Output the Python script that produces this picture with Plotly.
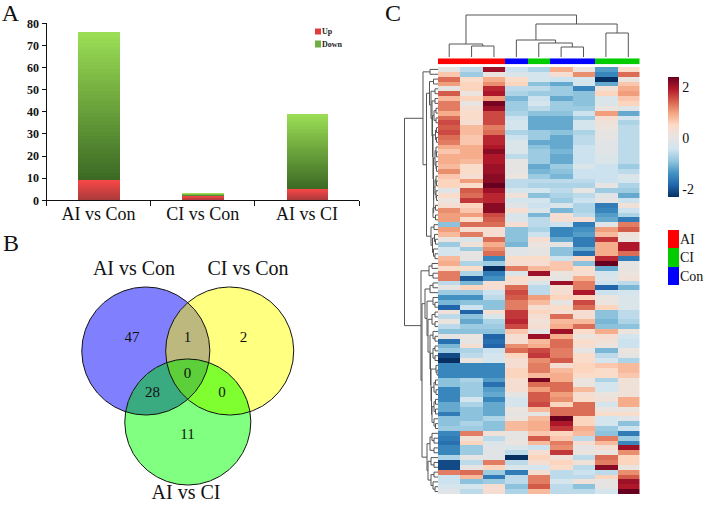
import numpy as np
import plotly.graph_objects as go

W, H = 709, 505
SERIF = "Liberation Serif"

# ---------- Panel A data ----------
categories = ["AI vs Con", "CI vs Con", "AI vs CI"]
up_values = [9, 2, 5]
down_values = [67, 1, 34]
y_ticks = [0, 10, 20, 30, 40, 50, 60, 70, 80]
bar_series = ["Up", "Down"]

# ---------- Panel B data ----------
venn_names = ["AI vs Con", "CI vs Con", "AI vs CI"]
venn_cx = [145.8, 229.7, 187.8]
venn_cy = [351, 351, 422]
venn_r = [64, 64, 63]
venn_counts = ["47", "1", "2", "0", "28", "0", "11"]
venn_count_x = [132, 187.5, 243.5, 187.5, 152.5, 222, 187.5]
venn_count_y = [338, 338, 338, 374, 393, 393, 435]

# ---------- Panel C data ----------
column_groups = [0, 0, 0, 2, 1, 2, 2, 1, 1]
group_names = ["AI", "CI", "Con"]
group_colors = ["#ff0000", "#00cc00", "#0000ff"]
heat_rows = [
 [0,-0.5,1.8,-0.4,-0.6,0.8,0.1,-1.1,0.4],
 [0.6,-0.7,0.1,-0.2,-0.3,0.3,1.0,-1.3,1.2],
 [1.2,0.4,0.8,0.4,-0.3,-0.4,-0.3,-2.2,0.1],
 [0.9,0.5,1.0,0.5,-0.8,-1.0,-0.3,-1.0,0.6],
 [0,0.5,1.6,-0.5,-0.5,-0.7,-1.3,0.2,0.8],
 [1.3,0.1,1.7,-0.6,-0.7,-0.7,-0.8,0.5,0.9],
 [0.7,0.5,0.9,-0.9,-0.4,-1.0,-0.8,-0.2,0.6],
 [1.1,0.05,2.0,-0.7,-0.3,-0.7,-0.8,-0.2,0.5],
 [1.1,0.3,1.8,-0.7,-0.5,-0.7,-0.7,0.1,-0.1],
 [0.8,0.4,1.4,-0.6,-0.8,-0.8,-0.4,0.9,-1.0],
 [1.2,0.4,1.4,-0.4,-1.0,-1.0,-0.7,0.3,-0.3],
 [1.4,0.3,1.4,-0.3,-1.0,-1.0,-0.3,0.2,-0.6],
 [1.3,0.7,1.1,-0.3,-1.0,-1.0,-0.3,0.1,-0.5],
 [1.4,0.7,1.2,-0.6,-0.7,-0.8,-0.6,0.0,-0.5],
 [1.2,0.6,1.6,-0.4,-0.7,-1.0,-0.5,0.0,-0.5],
 [1.1,0.6,1.6,-0.2,-1.0,-1.0,-0.5,-0.1,-0.5],
 [0.8,0.8,1.7,-0.2,-0.8,-1.0,-0.4,-0.1,-0.5],
 [0.6,0.8,1.9,-0.2,-0.7,-0.9,-0.4,-0.1,-0.5],
 [0.8,0.8,1.7,-0.5,-0.7,-1.0,-0.4,-0.2,-0.5],
 [0.8,0.7,1.7,0.0,-0.7,-1.0,-0.4,-0.2,-0.5],
 [0.7,0.4,1.8,0.0,-1.0,-0.7,-0.2,-0.4,-0.7],
 [1.0,0.4,1.8,0.0,-0.9,-0.8,-0.4,-0.4,-0.5],
 [0.6,0.3,1.9,0.1,-0.7,-0.9,-0.4,-0.4,-0.2],
 [0.5,0.9,1.9,-0.5,-0.5,-0.5,-0.5,-0.4,-0.3],
 [0.5,0.4,2.3,-0.5,-0.6,-0.6,-0.6,0.0,-0.6],
 [-0.1,1.3,1.8,-0.3,-0.3,-0.5,0.05,-0.7,-0.7],
 [0.4,1.2,1.6,0.2,-0.8,-0.6,-0.5,-0.1,-1.0],
 [0.1,1.5,1.6,-0.3,-0.3,-0.7,-0.4,0.0,-0.4],
 [0.3,0.5,1.9,-0.1,-0.4,-0.2,-0.6,-1.4,0.2],
 [1.0,0.6,1.9,0.3,-0.2,-0.9,-0.6,-1.3,-0.4],
 [0.9,0.9,1.4,-0.2,-0.9,0.3,-0.5,-1.1,-0.6],
 [0.9,0.4,1.3,-0.2,-0.5,0.3,0.3,-1.0,-1.4],
 [-0.8,1.2,1.2,0.3,-0.5,-0.4,-1.4,-0.1,1.1],
 [0.9,0.3,0.3,-0.8,-0.6,-1.3,-1.2,0.9,1.3],
 [0.7,1.1,0.3,-0.8,-0.4,-1.3,-1.1,0.7,0.2],
 [0.1,-0.2,1.2,-0.8,0.3,-1.0,-1.4,1.5,0.1],
 [-0.7,0.2,0.8,-0.9,0.1,0.0,-1.4,0.8,1.7],
 [-0.3,-0.7,1.0,-0.1,0.0,-0.8,-1.0,0.8,1.7],
 [-0.3,0.0,1.2,-0.1,0.0,-0.8,-1.5,0.8,1.2],
 [0.7,0.0,-1.3,0.4,0.4,-0.4,0.5,1.6,-1.4],
 [0.8,-0.6,-0.7,0.3,0.3,0.6,-0.8,2.1,0.0],
 [0.4,0.4,-2.0,1.1,0.7,0.6,0.4,-1.0,0.0],
 [1.1,-0.6,-1.4,-0.2,1.8,0.1,0.3,-0.3,0.1],
 [1.1,-1.7,-1.2,0.4,0.2,0.0,0.8,-0.2,0.2],
 [-0.5,-0.9,0.3,0.3,-0.2,1.8,1.1,-0.4,-0.5],
 [0.0,0.5,0.3,1.2,-0.5,0.3,1.1,-1.6,-0.9],
 [-0.7,-0.7,-0.4,1.4,-0.5,0.3,1.7,-0.4,-0.3],
 [-1.2,-1.2,-0.5,1.3,0.9,0.5,0.5,0.1,-0.2],
 [-0.9,-0.8,-0.8,1.1,0.7,0.0,1.4,0.1,-0.2],
 [-1.6,-0.4,-0.8,1.1,0.3,0.4,1.2,0.5,-0.2],
 [0.2,-1.6,0.3,1.5,0.5,0.3,0.3,-0.8,-0.5],
 [-0.5,-0.8,-0.2,1.5,0.3,1.2,0.3,-0.8,-0.5],
 [0.1,-1.0,-0.6,1.6,0.2,0.7,0.7,-0.9,-0.6],
 [-0.5,-0.7,-0.7,1.4,0.3,0.8,1.2,-0.8,-0.8],
 [-0.8,-0.8,-0.8,0.6,0.0,1.8,0.4,0.8,0.1],
 [0.0,0.1,-1.6,0.3,1.8,0.8,0.1,0.3,-0.3],
 [-1.5,0.0,-1.5,0.3,0.7,1.2,0.4,0.2,-0.4],
 [-0.9,0.3,-1.6,1.0,0.8,1.2,0.3,0.1,-0.4],
 [-0.7,-0.6,-0.4,1.2,1.4,1.1,0.0,-0.9,0.1],
 [-1.8,-0.5,-0.3,0.5,1.5,1.1,0.4,-0.5,0.0],
 [-2.0,0.1,-0.3,0.3,1.0,1.3,0.4,-0.3,-0.6],
 [-1.3,-1.3,-1.3,0.3,1.1,0.3,0.5,0.6,0.7],
 [-1.3,-1.3,-1.3,0.5,1.1,0.7,0.5,0.4,0.7],
 [-1.3,-1.3,-1.3,0.5,0.7,0.8,0.4,0.4,0.6],
 [-0.8,-0.6,-1.1,0.3,2.0,0.8,0.1,-0.6,0.2],
 [-0.8,-0.7,-1.5,0.3,1.2,1.2,0.1,-0.3,0.2],
 [-1.3,-0.7,-1.1,0.3,0.9,1.2,0.7,-0.3,0.2],
 [-1.3,-0.7,-1.0,0.0,1.3,0.9,0.3,0.1,0.2],
 [-1.3,-0.3,-1.3,-0.3,1.3,1.0,0.4,0.2,0.8],
 [-1.0,-0.6,-1.0,-0.3,1.4,0.5,1.2,-0.3,0.8],
 [-1.0,-0.8,-1.0,0.1,0.7,1.2,1.2,0.1,0.1],
 [-1.4,-0.8,-1.0,0.0,0.0,1.2,1.2,0.4,0.4],
 [-0.8,-0.8,-0.6,0.1,0.7,2.1,0.5,-0.3,-0.1],
 [-0.8,-0.6,-0.8,0.7,0.8,1.7,0.5,-0.3,-0.8],
 [-0.7,-0.7,-0.8,0.7,0.8,1.5,0.8,-0.7,-0.4],
 [-1.3,1.1,0.2,0.0,0.6,0.5,0.7,-0.8,-1.4],
 [-1.4,0.2,-0.5,0.0,1.3,0.6,-0.5,1.1,-0.7],
 [-1.5,0.5,-0.2,0.1,0.7,1.1,0.3,0.7,-1.3],
 [-1.3,-0.7,-0.1,-0.2,-0.4,1.0,0.0,0.3,1.8],
 [-1.3,-0.7,-0.1,-0.5,0.3,1.5,0.1,0.1,1.0],
 [-0.6,0.0,-0.1,-2.2,0.5,0.2,-0.5,1.2,0.5],
 [-1.8,-0.5,1.1,-0.5,0.3,0.5,0.2,1.1,0.5],
 [-1.8,0.0,0.5,-0.2,-0.3,0.4,-0.5,1.9,0.1],
 [1.1,1.2,-0.7,-1.4,0.3,-0.5,-0.4,-0.5,1.0],
 [-0.4,0.7,-1.4,-0.5,1.1,-0.5,-0.5,0.5,1.3],
 [-0.4,-0.8,-0.7,-0.5,1.1,-0.3,0.2,0.0,1.8],
 [-0.3,-0.3,0.3,-0.8,1.3,-0.5,-0.8,0.0,1.7],
 [-0.1,-0.5,0.3,-0.6,0.7,-0.5,-0.5,-0.3,2.4],
]
READ_GAIN = 1.15  # my visual reading of shades runs a little low against the colour bar
heat_colors = ["#053061", "#2166ac", "#4393c3", "#92c5de", "#d1e5f0", "#e8e4e2",
               "#fddbc7", "#f4a582", "#d6604d", "#b2182b", "#67001f"]
heat_zmin, heat_zmax = -2.3, 2.4
color_ticks = [-2, 0, 2]

# dendrogram merges: (first leaf, split leaf, end leaf, height)
column_merges = [(1,2,3,11),(0,1,3,13),(5,6,7,10),(4,5,7,14),(3,4,7,17),(7,8,9,24),(3,7,9,33),(0,3,9,42)]
row_merges = [
 (0,1,2,8),(2,3,4,4.5),(4,5,6,3),(6,7,8,3),(8,9,10,2),(10,11,12,2),(8,10,12,4),
 (12,13,14,1.5),(14,15,16,1.5),(12,14,16,2.5),(17,18,19,1.5),(16,17,19,2),(20,21,22,1.5),(19,20,22,2),(16,19,22,3),
 (23,24,25,1.5),(22,23,25,2),(26,27,28,1.5),(25,26,28,2),(22,25,28,3),(28,29,30,2.5),(30,31,32,2.5),(28,30,32,5),
 (22,28,32,4.3),(16,22,32,4.5),(12,16,32,5),(8,12,32,5.5),(6,8,32,6),(4,6,32,7),(2,4,32,8.5),
 (32,33,34,4),(35,36,37,2.5),(34,35,37,3.5),(38,39,40,3),(37,38,40,4.5),(34,37,40,5.5),(32,34,40,7),
 (2,32,40,11.5),(0,2,40,15),
 (40,41,42,6),(42,43,44,5),(40,42,44,9),
 (44,45,46,5),(44,46,47,8),(48,49,50,3),(47,48,50,5),(50,51,52,3),(52,53,54,3),(50,52,54,6),
 (55,56,57,3),(54,55,57,5),(57,58,59,3),(59,60,61,3),(57,59,61,5),(62,63,64,1),(61,62,64,2),
 (64,65,66,2.5),(66,67,68,2),(64,66,68,4),(68,69,70,2.5),(70,71,72,2.5),(68,70,72,4),(73,74,75,2.5),(72,73,75,4),
 (68,72,75,6),(64,68,75,6.5),(61,64,75,7),(57,61,75,7.5),(54,57,75,8),(50,54,75,10),(47,50,75,11),(44,47,75,13),
 (76,77,78,4),(75,76,78,6),(78,79,80,4),(75,78,80,8),(81,82,83,4),(80,81,83,7),(83,84,85,4),(86,87,88,3),(85,86,88,5),(83,85,88,7),
 (80,83,88,10),(75,80,88,11),(44,75,88,16),(40,44,88,17),(0,40,88,33.5),
]

# page texts
page_text = ["A", "B", "C"] + venn_names
page_text_x = [10.5, 11, 393, 134, 248, 186]
page_text_y = [15, 245, 15, 270, 270, 494]
page_text_size = [24, 24, 24, 20, 20, 20]

# ---------- helpers ----------
def dx(a, b):
    return [a / W, b / W]

def dy(a, b):
    return [1 - b / H, 1 - a / H]

def blend(c0, c1, t):
    a = np.array(c0); b = np.array(c1)
    v = a + (b - a) * t
    return "rgb(%d,%d,%d)" % tuple(v.round().astype(int))

def dendro_lines(merges):
    info = {}
    a, b = [], []
    for lo, mid, hi, h in merges:
        lp, lh = info.get((lo, mid), ((lo + mid - 1) / 2 if mid - lo == 1 else None, 0))
        rp, rh = info.get((mid, hi), ((mid + hi - 1) / 2 if hi - mid == 1 else None, 0))
        a += [lp, lp, rp, rp, None]
        b += [lh, h, h, rh, None]
        info[(lo, hi)] = ((lp + rp) / 2, h)
    return a, b

def hidden_axis(domain, rng, anchor):
    return dict(domain=domain, range=rng, anchor=anchor, visible=False, fixedrange=True)

fig = go.Figure()

# ---------- Panel A ----------
RED_TOP, RED_BOT = (245, 70, 70), (168, 58, 58)
GRN_TOP, GRN_BOT = (155, 222, 85), (60, 106, 36)
n_slices = 40
fig.add_trace(go.Bar(x=categories, y=up_values, name=bar_series[0], width=0.4, marker_color="#e03c3c",
                     marker_line_width=0, showlegend=False))
fig.add_trace(go.Bar(x=categories, y=down_values, base=up_values, name=bar_series[1], width=0.4,
                     marker_color="#6eae45", marker_line_width=0, showlegend=False))
sx, sb, sh, sc = [], [], [], []
for cat, u, d in zip(categories, up_values, down_values):
    for seg_base, seg_h, top, bot in ((0, u, RED_TOP, RED_BOT), (u, d, GRN_TOP, GRN_BOT)):
        for i in range(n_slices):
            t = i / (n_slices - 1)
            sx.append(cat)
            sb.append(seg_base + seg_h * i / n_slices)
            sh.append(seg_h / n_slices * 1.15 if i < n_slices - 1 else seg_h / n_slices)
            sc.append(blend(bot, top, t))
fig.add_trace(go.Bar(x=sx, y=sh, base=sb, width=0.4, marker=dict(color=sc, line_width=0),
                     showlegend=False, hoverinfo="skip"))
# small key for Up / Down
key_scale = [[0, "#e03c3c"], [0.5, "#e03c3c"], [0.5, "#6eae45"], [1, "#6eae45"]]
fig.add_trace(go.Heatmap(z=[[0], [1]], y=bar_series, zmin=0, zmax=1, colorscale=key_scale, showscale=False,
                         ygap=6, hoverinfo="skip", xaxis="x8", yaxis="y8"))

# ---------- Panel B ----------
def circle(i, n=361):
    th = np.linspace(0, 2 * np.pi, n)
    return venn_cx[i] + venn_r[i] * np.cos(th), venn_cy[i] + venn_r[i] * np.sin(th)

def inside(x, y, j):
    return (x - venn_cx[j]) ** 2 + (y - venn_cy[j]) ** 2 <= venn_r[j] ** 2 + 1e-9

def intersection(ids):
    xs, ys = [], []
    for i in ids:
        cx, cy = circle(i, 1441)
        keep = np.ones_like(cx, bool)
        for j in ids:
            if j != i:
                keep &= inside(cx, cy, j)
        xs.append(cx[keep]); ys.append(cy[keep])
    x = np.concatenate(xs); y = np.concatenate(ys)
    order = np.argsort(np.arctan2(y - y.mean(), x - x.mean()))
    return np.r_[x[order], x[order][0]], np.r_[y[order], y[order][0]]

venn_fill = {(0,): "#8080ff", (1,): "#ffff80", (2,): "#80ff80",
             (0, 1): "#bdb97e", (0, 2): "#3aaa80", (1, 2): "#80ff30", (0, 1, 2): "#5ccf3a"}
for ids in [(0,), (1,), (2,), (0, 1), (0, 2), (1, 2), (0, 1, 2)]:
    px_, py_ = circle(ids[0]) if len(ids) == 1 else intersection(ids)
    fig.add_trace(go.Scatter(x=px_, y=py_, mode="lines", fill="toself", fillcolor=venn_fill[ids],
                             line=dict(width=0), showlegend=False, hoverinfo="skip",
                             xaxis="x2", yaxis="y2"))
for i in range(3):
    cx, cy = circle(i)
    fig.add_trace(go.Scatter(x=cx, y=cy, mode="lines", line=dict(color="#111111", width=1),
                             showlegend=False, hoverinfo="skip", xaxis="x2", yaxis="y2"))
fig.add_trace(go.Scatter(x=venn_count_x, y=venn_count_y, mode="text", text=venn_counts,
                         textfont=dict(family=SERIF, size=15, color="#111111"), showlegend=False,
                         hoverinfo="skip", xaxis="x2", yaxis="y2"))
fig.add_trace(go.Scatter(x=page_text_x, y=page_text_y, mode="text", text=page_text, cliponaxis=False,
                         textfont=dict(family=SERIF, size=page_text_size, color="#111111"), showlegend=False,
                         hoverinfo="skip", xaxis="x2", yaxis="y2"))

# ---------- Panel C ----------
z = np.array(heat_rows, dtype=float) * READ_GAIN
stops = [[i / (len(heat_colors) - 1), c] for i, c in enumerate(heat_colors)]
fig.add_trace(go.Heatmap(z=z, zmin=heat_zmin, zmax=heat_zmax, colorscale=stops, xaxis="x3", yaxis="y3",
                         xgap=0, ygap=0, hoverinfo="skip",
                         colorbar=dict(x=668 / W, xanchor="left", xpad=0, ypad=0, thickness=11, thicknessmode="pixels",
                                       len=120, lenmode="pixels", y=1 - 77 / H, yanchor="top",
                                       tickmode="array", tickvals=color_ticks, ticktext=["-2", "0", "2"],
                                       ticks="", outlinewidth=0, borderwidth=0,
                                       tickfont=dict(family=SERIF, size=14, color="#111111"))))
group_scale = [[0, group_colors[0]], [0.33, group_colors[0]], [0.33, group_colors[1]],
               [0.66, group_colors[1]], [0.66, group_colors[2]], [1, group_colors[2]]]
fig.add_trace(go.Heatmap(z=[column_groups], zmin=0, zmax=2, colorscale=group_scale, showscale=False,
                         hoverinfo="skip", xaxis="x4", yaxis="y4"))
lx, ly = dendro_lines(column_merges)
fig.add_trace(go.Scatter(x=lx, y=ly, mode="lines", line=dict(color="#555555", width=1), showlegend=False,
                         hoverinfo="skip", xaxis="x5", yaxis="y5"))
ry, rx = dendro_lines(row_merges)
fig.add_trace(go.Scatter(x=rx, y=ry, mode="lines", line=dict(color="#555555", width=1), showlegend=False,
                         hoverinfo="skip", xaxis="x6", yaxis="y6"))
fig.add_trace(go.Heatmap(z=[[0], [1], [2]], y=group_names, zmin=0, zmax=2, colorscale=group_scale, showscale=False,
                         hoverinfo="skip", xaxis="x7", yaxis="y7"))

n_rows, n_cols = z.shape
HX0, HX1, HY0, HY1 = 438, 639.5, 67, 494

fig.update_layout(
    width=W, height=H, margin=dict(l=0, r=0, t=0, b=0, autoexpand=False), paper_bgcolor="white", plot_bgcolor="rgba(0,0,0,0)",
    barmode="overlay", bargap=0, showlegend=False,
    font=dict(family=SERIF, color="#111111"),
    xaxis=dict(domain=dx(46.5, 359), range=[-0.5, 2.5], anchor="y", type="category", tickson="boundaries",
               ticks="outside", ticklen=5, tickwidth=1, tickcolor="#111111", showline=True, linecolor="#111111",
               ticklabelstandoff=-3,
               tickfont=dict(family=SERIF, size=18, color="#111111"), showgrid=False, fixedrange=True),
    yaxis=dict(domain=dy(23.3, 200.3), range=[0, 80], anchor="x", tickvals=y_ticks, ticks="outside", ticklen=4,
               tickwidth=1, tickcolor="#111111", showline=True, linecolor="#111111", showgrid=False, zeroline=False,
               tickfont=dict(family=SERIF, size=12, color="#111111", weight="bold"), fixedrange=True),
    xaxis2=hidden_axis([0, 1], [0, W], "y2"),
    yaxis2=hidden_axis([0, 1], [H, 0], "x2"),
    xaxis3=hidden_axis(dx(HX0, HX1), [-0.5, n_cols - 0.5], "y3"),
    yaxis3=hidden_axis(dy(HY0, HY1), [n_rows - 0.5, -0.5], "x3"),
    xaxis4=hidden_axis(dx(HX0, HX1), [-0.5, n_cols - 0.5], "y4"),
    yaxis4=hidden_axis(dy(58.3, 64.3), [-0.5, 0.5], "x4"),
    xaxis5=hidden_axis(dx(HX0, HX1), [-0.5, n_cols - 0.5], "y5"),
    yaxis5=hidden_axis(dy(12, 57), [0, 45], "x5"),
    xaxis6=hidden_axis(dx(403, 438), [35, 0], "y6"),
    yaxis6=hidden_axis(dy(HY0, HY1), [n_rows - 0.5, -0.5], "x6"),
    xaxis7=hidden_axis(dx(668, 679), [-0.5, 0.5], "y7"),
    yaxis7=dict(domain=dy(230, 285), anchor="x7", side="right", autorange="reversed", showline=False, ticks="",
                showgrid=False, tickfont=dict(family=SERIF, size=14, color="#111111"), fixedrange=True),
    xaxis8=hidden_axis(dx(315, 321), [-0.5, 0.5], "y8"),
    yaxis8=dict(domain=dy(25.5, 50), anchor="x8", side="right", autorange="reversed", showline=False, ticks="",
                showgrid=False, tickfont=dict(family=SERIF, size=8, color="#222222", weight="bold"), fixedrange=True),
)

fig.write_html("out.html", config={"displayModeBar": False},
               post_script="document.body.style.margin='0';document.body.style.overflow='hidden';")
